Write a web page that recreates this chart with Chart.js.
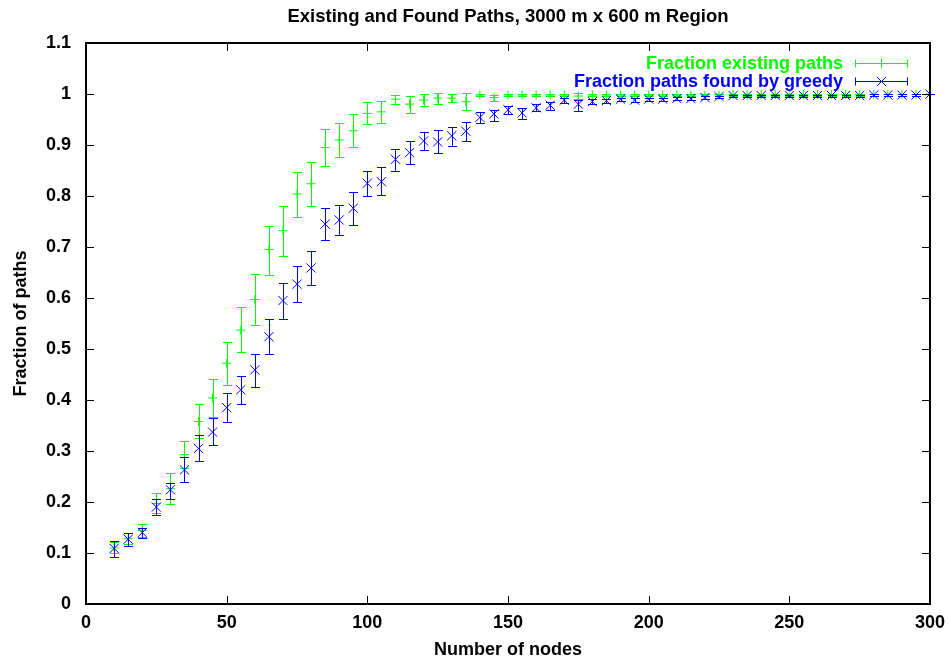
<!DOCTYPE html>
<html>
<head>
<meta charset="utf-8">
<script src="https://cdn.jsdelivr.net/npm/chart.js@4.4.1/dist/chart.umd.min.js"></script>
<style>
html,body{margin:0;padding:0;background:#ffffff;}
#wrap{width:950px;height:664px;}
</style>
</head>
<body>
<div id="wrap"><canvas id="c" width="950" height="664"></canvas></div>
<script>
// ---- Data ----
const chartTitle = 'Existing and Found Paths, 3000 m x 600 m Region';
const xAxisTitle = 'Number of nodes';
const yAxisTitle = 'Fraction of paths';
const seriesNames = ['Fraction existing paths', 'Fraction paths found by greedy'];

const nodes = [10,15,20,25,30,35,40,45,50,55,60,65,70,75,80,85,90,95,100,105,
  110,115,120,125,130,135,140,145,150,155,160,165,170,175,180,185,190,195,200,205,
  210,215,220,225,230,235,240,245,250,255,260,265,270,275,280,285,290,295,300];

const existingMean = [0.110,0.128,0.144,0.197,0.226,0.293,0.358,0.404,0.472,0.537,
  0.597,0.695,0.732,0.804,0.824,0.895,0.910,0.928,0.962,0.965,
  0.990,0.980,0.988,0.992,0.992,0.985,0.998,0.993,0.998,0.998,
  0.998,0.998,0.998,0.996,0.998,0.998,0.998,0.998,0.998,0.998,
  0.998,0.998,0.998,0.998,0.999,0.998,0.999,0.999,0.999,0.999,
  0.999,0.999,0.999,0.999,0.999,0.999,0.999,0.999,1.000];
const existingLow = [0.100,0.117,0.132,0.178,0.196,0.266,0.325,0.366,0.429,0.495,
  0.548,0.646,0.682,0.758,0.780,0.858,0.877,0.897,0.941,0.944,
  0.981,0.963,0.977,0.981,0.984,0.969,0.996,0.986,0.996,0.996,
  0.996,0.996,0.996,0.990,0.996,0.996,0.996,0.996,0.996,0.996,
  0.996,0.996,0.996,0.996,0.997,0.996,0.997,0.997,0.997,0.997,
  0.997,0.997,0.997,0.997,0.997,0.997,0.997,0.997,1.000];
const existingHigh = [0.121,0.139,0.157,0.218,0.257,0.320,0.392,0.441,0.514,0.582,
  0.647,0.742,0.781,0.848,0.866,0.932,0.943,0.960,0.985,0.987,
  0.998,0.996,1.000,1.002,1.000,1.001,1.000,0.999,1.000,1.000,
  1.000,1.000,1.000,1.002,1.000,1.000,1.000,1.000,1.000,1.000,
  1.000,1.000,1.000,1.000,1.000,1.000,1.000,1.000,1.000,1.000,
  1.000,1.000,1.000,1.000,1.000,1.000,1.000,1.000,1.000];

const greedyMean = [0.109,0.127,0.140,0.190,0.224,0.263,0.305,0.337,0.385,0.420,
  0.459,0.524,0.595,0.627,0.659,0.745,0.753,0.776,0.825,0.828,
  0.872,0.885,0.908,0.906,0.918,0.927,0.954,0.961,0.969,0.963,
  0.973,0.978,0.988,0.980,0.985,0.987,0.990,0.988,0.990,0.990,
  0.991,0.991,0.993,0.995,0.997,0.997,0.997,0.997,0.997,0.997,
  0.997,0.997,0.997,0.997,0.998,0.998,0.998,0.998,1.000];
const greedyLow = [0.093,0.114,0.130,0.175,0.205,0.240,0.280,0.311,0.357,0.392,
  0.426,0.491,0.559,0.592,0.625,0.713,0.723,0.744,0.800,0.801,
  0.850,0.862,0.890,0.884,0.899,0.908,0.943,0.947,0.960,0.951,
  0.966,0.968,0.982,0.967,0.980,0.983,0.987,0.984,0.987,0.987,
  0.988,0.988,0.990,0.993,0.995,0.995,0.995,0.995,0.995,0.995,
  0.995,0.995,0.995,0.995,0.996,0.996,0.996,0.996,1.000];
const greedyHigh = [0.124,0.139,0.150,0.206,0.238,0.288,0.331,0.364,0.413,0.448,
  0.490,0.558,0.630,0.663,0.693,0.777,0.782,0.808,0.850,0.856,
  0.893,0.908,0.926,0.929,0.935,0.946,0.964,0.969,0.976,0.973,
  0.980,0.984,0.993,0.988,0.990,0.991,0.993,0.992,0.993,0.993,
  0.994,0.994,0.996,0.997,0.999,0.999,0.999,0.999,0.999,0.999,
  0.999,0.999,0.999,0.999,1.000,1.000,1.000,1.000,1.000];

const xTickStep = 50;
const yTickStep = 0.1;

// ---- Build datasets ----
function buildPoints(mean, low, high) {
  return nodes.map((n, i) => ({ x: n, y: mean[i], yMin: low[i], yMax: high[i] }));
}

const FONT = '"Liberation Sans", Arial, sans-serif';
const GREEN = '#00ff00';
const BLUE = '#0000ff';

const errorBarPlugin = {
  id: 'errorBars',
  beforeDatasetDraw(chart, args) {
    const ds = chart.data.datasets[args.index];
    const xs = chart.scales.x, ys = chart.scales.y;
    const ctx = chart.ctx;
    ctx.save();
    ctx.strokeStyle = ds.borderColor;
    ctx.lineWidth = 1;
    ctx.beginPath();
    ds.data.forEach(p => {
      const x = Math.round(xs.getPixelForValue(p.x)) + 0.5;
      const y1 = Math.round(ys.getPixelForValue(p.yMin)) + 0.5;
      const y2 = Math.round(ys.getPixelForValue(p.yMax)) + 0.5;
      ctx.moveTo(x, y1); ctx.lineTo(x, y2);
      ctx.moveTo(x - 4.5, y1); ctx.lineTo(x + 4.5, y1);
      ctx.moveTo(x - 4.5, y2); ctx.lineTo(x + 4.5, y2);
    });
    ctx.stroke();
    ctx.restore();
  }
};

const framePlugin = {
  id: 'frameTicks',
  afterDraw(chart) {
    const ctx = chart.ctx;
    const a = chart.chartArea;
    const xs = chart.scales.x, ys = chart.scales.y;
    ctx.save();
    ctx.strokeStyle = '#000';
    ctx.lineWidth = 1;
    ctx.beginPath();
    const tl = 8;
    xs.ticks.forEach(t => {
      const x = Math.round(xs.getPixelForValue(t.value)) + 0.5;
      ctx.moveTo(x, a.bottom); ctx.lineTo(x, a.bottom - tl);
      ctx.moveTo(x, a.top); ctx.lineTo(x, a.top + tl);
    });
    ys.ticks.forEach(t => {
      const y = Math.round(ys.getPixelForValue(t.value)) + 0.5;
      ctx.moveTo(a.left, y); ctx.lineTo(a.left + tl, y);
      ctx.moveTo(a.right, y); ctx.lineTo(a.right - tl, y);
    });
    ctx.stroke();
    ctx.lineWidth = 2;
    ctx.strokeRect(a.left, a.top, a.right - a.left, a.bottom - a.top);

    // key (legend), top right inside the plot
    ctx.font = 'bold 18px ' + FONT;
    ctx.textAlign = 'right';
    ctx.textBaseline = 'middle';
    chart.data.datasets.forEach((ds, i) => {
      const y = a.top + 20 + i * 18 + 0.5;
      const textRight = a.right - 87;
      const s0 = a.right - 75, s1 = a.right - 22;
      const mid = (s0 + s1) / 2;
      ctx.fillStyle = ds.borderColor;
      ctx.fillText(ds.label, textRight, y + 1);
      ctx.strokeStyle = ds.borderColor;
      ctx.lineWidth = 1;
      ctx.beginPath();
      ctx.moveTo(s0, y); ctx.lineTo(s1, y);
      ctx.moveTo(s0 + 0.5, y - 4); ctx.lineTo(s0 + 0.5, y + 4);
      ctx.moveTo(s1 - 0.5, y - 4); ctx.lineTo(s1 - 0.5, y + 4);
      if (ds.pointStyle === 'cross') {
        ctx.moveTo(mid, y - 4.5); ctx.lineTo(mid, y + 4.5);
        ctx.moveTo(mid - 4.5, y); ctx.lineTo(mid + 4.5, y);
      } else {
        ctx.moveTo(mid - 4.5, y - 4.5); ctx.lineTo(mid + 4.5, y + 4.5);
        ctx.moveTo(mid - 4.5, y + 4.5); ctx.lineTo(mid + 4.5, y - 4.5);
      }
      ctx.stroke();
    });
    ctx.restore();
  }
};

Chart.defaults.font.family = FONT;
Chart.defaults.font.size = 18;
Chart.defaults.font.weight = 'bold';
Chart.defaults.color = '#000';

new Chart(document.getElementById('c'), {
  type: 'scatter',
  data: {
    datasets: [
      {
        label: seriesNames[0],
        data: buildPoints(existingMean, existingLow, existingHigh),
        borderColor: GREEN,
        backgroundColor: GREEN,
        pointStyle: 'cross',
        pointRadius: 4.5,
        pointBorderWidth: 1,
        showLine: false,
        order: 2
      },
      {
        label: seriesNames[1],
        data: buildPoints(greedyMean, greedyLow, greedyHigh),
        borderColor: BLUE,
        backgroundColor: BLUE,
        pointStyle: 'crossRot',
        pointRadius: 6.5,
        pointBorderWidth: 1,
        showLine: false,
        order: 1
      }
    ]
  },
  options: {
    responsive: false,
    animation: false,
    devicePixelRatio: 1,
    layout: { padding: { left: 0, right: 20, top: 0, bottom: 0 } },
    plugins: {
      legend: { display: false },
      tooltip: { enabled: false },
      title: {
        display: true,
        text: chartTitle,
        fullSize: false,
        color: '#000',
        font: { family: FONT, size: 18.5, weight: 'bold', lineHeight: 1.2 },
        padding: { top: 6, bottom: 14.8 }
      }
    },
    scales: {
      x: {
        type: 'linear',
        min: 0,
        max: 300,
        grid: { display: false, drawTicks: false, tickLength: 0 },
        border: { display: false },
        ticks: { stepSize: xTickStep, padding: 8, color: '#000', font: { size: 18, weight: 'bold' }, maxRotation: 0 },
        title: { display: true, text: xAxisTitle, color: '#000', font: { size: 18, weight: 'bold', lineHeight: 1.2 }, padding: { top: 0, bottom: 3 } },
        afterFit(s) { s.height = 60; s.paddingRight = 0; s.paddingLeft = 0; }
      },
      y: {
        type: 'linear',
        min: 0,
        max: 1.1,
        grid: { display: false, drawTicks: false, tickLength: 0 },
        border: { display: false },
        ticks: {
          stepSize: yTickStep,
          padding: 15,
          color: '#000',
          font: { size: 18, weight: 'bold' },
          callback: v => String(Math.round(v * 10) / 10)
        },
        title: { display: true, text: yAxisTitle, color: '#000', font: { size: 18, weight: 'bold', lineHeight: 1.2 }, padding: { top: 10, bottom: 0 } },
        afterFit(s) { s.width = 86; s.paddingTop = 0; s.paddingBottom = 0; }
      }
    }
  },
  plugins: [errorBarPlugin, framePlugin]
});
</script>
</body>
</html>
